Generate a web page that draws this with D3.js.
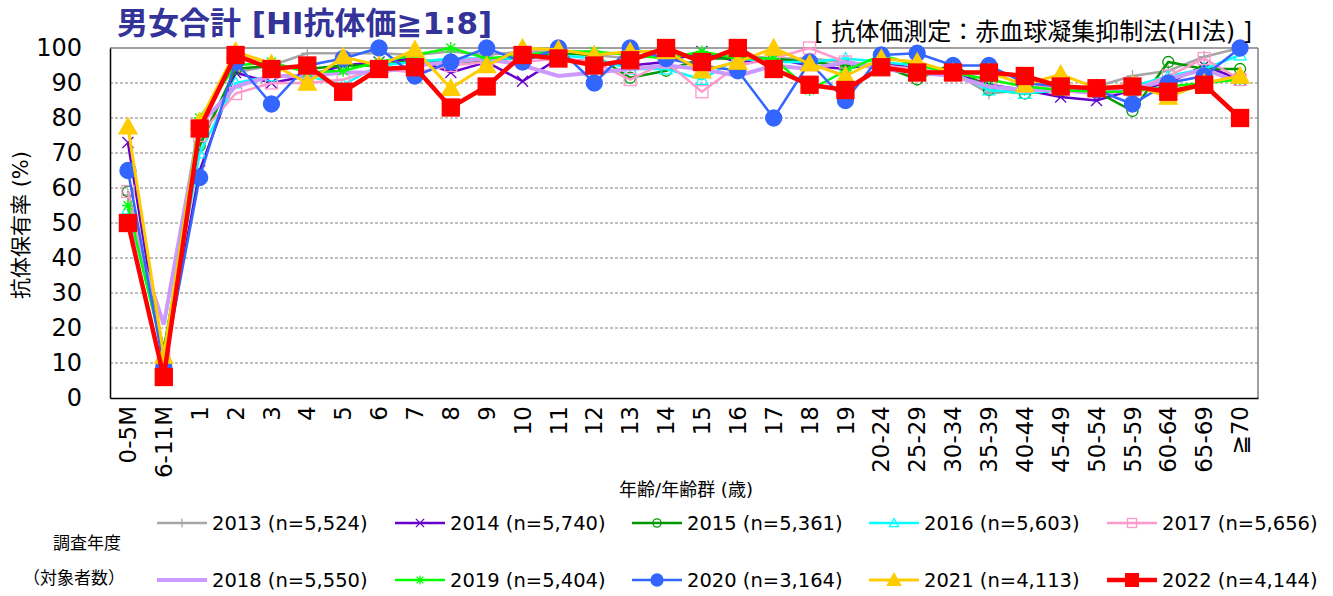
<!DOCTYPE html>
<html><head><meta charset="utf-8">
<script src="https://cdn.jsdelivr.net/npm/d3@7"></script>
<style>body{margin:0;background:#fff}svg{display:block}text{font-family:"DejaVu Sans","Noto Sans CJK JP",sans-serif}</style>
</head><body><svg id="c" width="1333" height="596"></svg>
<script>
const categories = ["0-5M","6-11M","1","2","3","4","5","6","7","8","9","10","11","12","13","14","15","16","17","18","19","20-24","25-29","30-34","35-39","40-44","45-49","50-54","55-59","60-64","65-69","≧70"];
const years = ["2013","2014","2015","2016","2017","2018","2019","2020","2021","2022"];
const sampleSizes = ["5,524","5,740","5,361","5,603","5,656","5,550","5,404","3,164","4,113","4,144"];
const y2013 = [58,13,73,93,95,98.5,98.5,98.5,98,99,98,99,99,98,97,98,98,98,97,97,96,95,94,93,87,88,88.5,89,92,93.5,97.5,100];
const y2014 = [73,9,65,93,90,92,95,96,97,93,96,90.5,97,96,95,96,99,96,97,95,94,96,94,93,89.5,88,86,85,88,90,95,91];
const y2015 = [59,14,72,94,95,94,95,95,96.5,96,96,97.5,98.5,98,91.5,93.5,97,97,97,96,95,95,91,95.5,88,87,88,87.5,82,96,94,94];
const y2016 = [54,13,70,90,92,92,89.5,95,96,97,97,97,98,97,94,94,91,97,96,96,97,96,95,93,88,87,88,88,89,92,94,98];
const y2017 = [59,12,75,87,90,90,91,94,93,95,96,96,97,96,91,96,87.5,95,97,100,96,95,94,93,91,89,89,88,88,92,97,91];
const y2018 = [52,21,78,89,92,92,93,93,95,96,97,95,92,93,94,95,94,92,95,94,96,94,93,92,89,88,88,87,88,91,94,90];
const y2019 = [55,12,80,95,96,93,93.5,96,98,100,97,98,99,99,98,97,99,97,97,88,93.5,98,95,93,91,89,88,87.5,87.5,89,90,91];
const y2020 = [65,9,63,96,84,95,97,100,92,96,100,96,100,90,100,97,95,93.5,80,96,85,98,98.5,95,95,90,89,88,84,90,92,100];
const y2021 = [77.5,12,79,99,95.5,90,97.5,95,99.5,88.5,95,100,99.5,98,99,99,93.5,96,100,95.5,92,97,96,93,93,89.5,92.5,88.5,89.5,86,90,92];
const y2022 = [50,6,77,98,94,95,87.5,94,94.5,83,89,98,97,95,96.5,100,96,100,94,89.5,88,94.5,93,93,93,92,89,88.5,89,87.5,89.5,80];
const yTicks = [0,10,20,30,40,50,60,70,80,90,100];

const seriesValues = [y2013,y2014,y2015,y2016,y2017,y2018,y2019,y2020,y2021,y2022];
const styles = [
  {color:"#a6a6a6", w:2.5, m:"plus", s:6, fill:false},
  {color:"#6600cc", w:2.5, m:"x", s:5.5, fill:false},
  {color:"#009900", w:2.5, m:"circle", s:5.5, fill:false},
  {color:"#00ffff", w:2.5, m:"triangle", s:6, fill:false},
  {color:"#ff99cc", w:2.5, m:"square", s:6, fill:false},
  {color:"#cc99ff", w:4, m:"none", s:0, fill:false},
  {color:"#00ff00", w:2.5, m:"asterisk", s:6, fill:false},
  {color:"#3366ff", w:2.5, m:"circle", s:8, fill:true},
  {color:"#ffcc00", w:3, m:"triangle", s:9, fill:true},
  {color:"#ff0000", w:4.5, m:"square", s:8.5, fill:true}
];

const svg = d3.select("#c");
const L=110, R=1258, T=48, B=398;
const x = d3.scaleBand().domain(categories).range([L,R]);
const y = d3.scaleLinear().domain([0,100]).range([B,T]);
const cx = c => x(c)+x.bandwidth()/2;

svg.append("g").selectAll("line").data(yTicks.filter(t=>t>0&&t<100)).join("line")
  .attr("x1",L).attr("x2",R).attr("y1",d=>y(d)).attr("y2",d=>y(d))
  .attr("stroke","#808080").attr("stroke-width",1).attr("stroke-dasharray","3,2");
svg.append("line").attr("x1",L).attr("x2",R).attr("y1",y(100)).attr("y2",y(100)).attr("stroke","#808080").attr("stroke-width",1.5);
svg.append("line").attr("x1",R).attr("x2",R).attr("y1",T).attr("y2",B).attr("stroke","#808080").attr("stroke-width",1.5);

const yAxis = d3.axisLeft(y).tickValues(yTicks).tickSize(0).tickPadding(28);
const ga = svg.append("g").attr("transform",`translate(${L},0)`).call(yAxis);
ga.select(".domain").attr("stroke","#000").attr("stroke-width",1.5);
ga.selectAll("text").attr("font-size",24).attr("fill","#000").attr("font-family",'"DejaVu Sans",sans-serif');
const xAxis = d3.axisBottom(x).tickSize(0).tickPadding(0);
const gx = svg.append("g").attr("transform",`translate(0,${B})`).call(xAxis);
gx.select(".domain").attr("stroke","#000").attr("stroke-width",1.5);
gx.selectAll("text").attr("font-size",23).attr("fill","#000")
  .attr("text-anchor","end").attr("dy","0.35em")
  .attr("transform","translate(0,8) rotate(-90)").attr("x",0).attr("y",0);

function marker(g, st, px, py){
  const s=st.s, c=st.color;
  if(st.m==="none") return;
  if(st.m==="circle"){
    g.append("circle").attr("cx",px).attr("cy",py).attr("r",s).attr("fill",st.fill?c:"#fff").attr("fill-opacity",st.fill?1:0).attr("stroke",c).attr("stroke-width",1.3);
  } else if(st.m==="square"){
    g.append("rect").attr("x",px-s).attr("y",py-s).attr("width",2*s).attr("height",2*s).attr("fill",st.fill?c:"none").attr("stroke",c).attr("stroke-width",1.3);
  } else if(st.m==="triangle"){
    g.append("path").attr("d",`M${px},${py-s}L${px+s},${py+s*0.8}L${px-s},${py+s*0.8}Z`).attr("fill",st.fill?c:"none").attr("stroke",c).attr("stroke-width",1.3);
  } else {
    let d="";
    if(st.m==="plus"||st.m==="asterisk") d+=`M${px-s},${py}H${px+s}M${px},${py-s}V${py+s}`;
    if(st.m==="x"||st.m==="asterisk") { const k=st.m==="asterisk"?s*0.75:s; d+=`M${px-k},${py-k}L${px+k},${py+k}M${px-k},${py+k}L${px+k},${py-k}`; }
    g.append("path").attr("d",d).attr("stroke",c).attr("stroke-width",1.3).attr("fill","none");
  }
}

const line = d3.line().x((d,i)=>cx(categories[i])).y(d=>y(d));
seriesValues.forEach((vals,k)=>{
  const st=styles[k];
  const g=svg.append("g");
  g.append("path").datum(vals).attr("d",line).attr("fill","none").attr("stroke",st.color).attr("stroke-width",st.w).attr("stroke-linejoin","miter");
  vals.forEach((v,i)=>marker(g,st,cx(categories[i]),y(v)));
});

svg.append("text").attr("x",117).attr("y",34).attr("font-size",31).attr("font-weight","bold").attr("fill","#333399").text("男女合計 [HI抗体価≧1:8]");
svg.append("text").attr("x",1252).attr("y",40).attr("text-anchor","end").attr("font-size",24).attr("fill","#000").text("[ 抗体価測定：赤血球凝集抑制法(HI法) ]");
svg.append("text").attr("transform","translate(28,225) rotate(-90)").attr("text-anchor","middle").attr("font-size",21).attr("fill","#000").text("抗体保有率 (%)");
svg.append("text").attr("x",686).attr("y",496).attr("text-anchor","middle").attr("font-size",18).attr("fill","#000").text("年齢/年齢群 (歳)");

svg.append("text").attr("x",87).attr("y",549).attr("text-anchor","middle").attr("font-size",17).attr("fill","#000").text("調査年度");
svg.append("text").attr("x",74).attr("y",584).attr("text-anchor","middle").attr("font-size",17).attr("fill","#000").text("（対象者数）");
const legendX=[157,395,632,869,1107], legendY=[523,580];
years.forEach((yr,k)=>{
  const st=styles[k];
  const lx=legendX[k%5], ly=legendY[Math.floor(k/5)];
  const g=svg.append("g");
  g.append("line").attr("x1",lx).attr("x2",lx+50).attr("y1",ly).attr("y2",ly).attr("stroke",st.color).attr("stroke-width",st.w);
  const s2={...st, s:st.s*0.75};
  marker(g,s2,lx+25,ly);
  g.append("text").attr("x",lx+55).attr("y",ly).attr("dy","0.35em").attr("font-size",19.5).attr("fill","#000").text(`${yr} (n=${sampleSizes[k]})`);
});
</script></body></html>
